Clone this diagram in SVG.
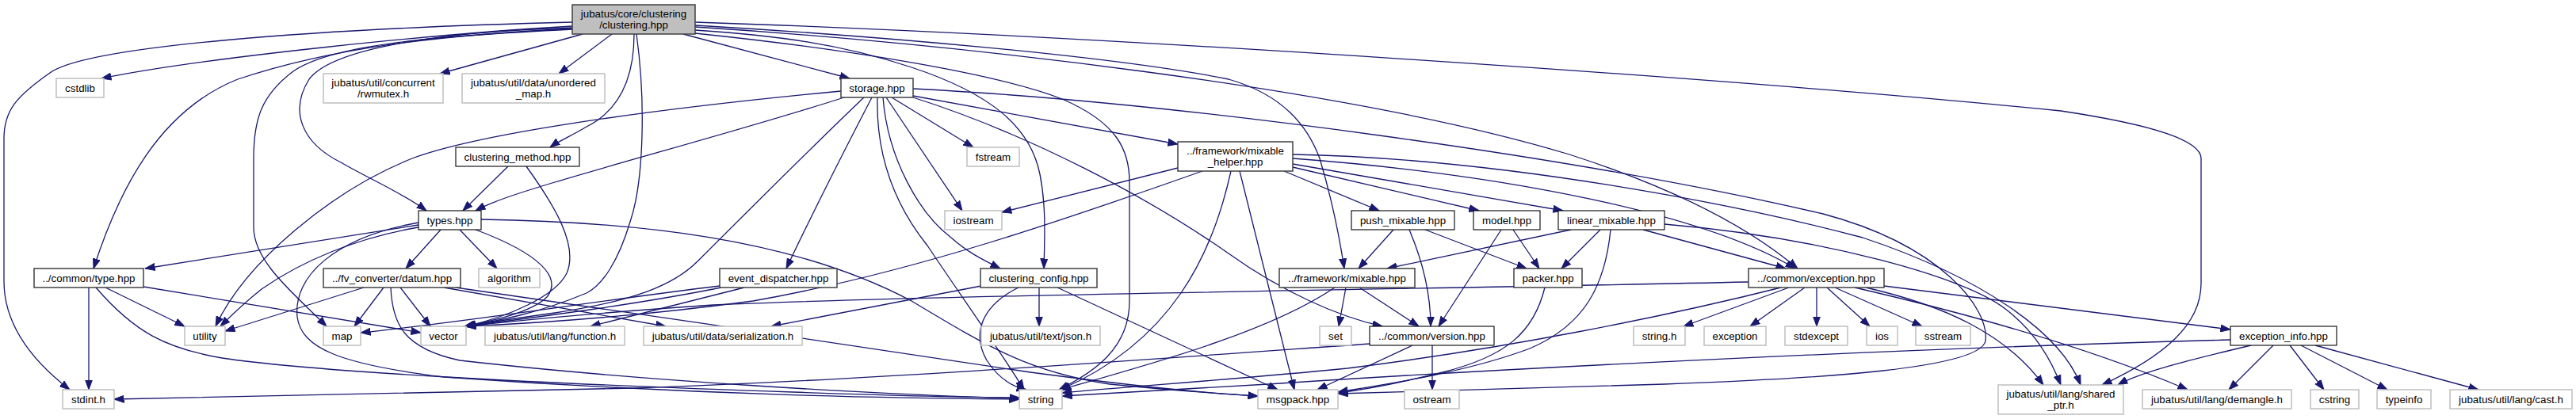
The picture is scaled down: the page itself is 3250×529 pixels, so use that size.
<svg xmlns="http://www.w3.org/2000/svg" width="3250" height="529" viewBox="0 0 3250 529">
<style>
.e path{fill:none;stroke:#191970;stroke-width:1.3;marker-end:url(#arr)}
.doc rect{fill:#fff;stroke:#404040;stroke-width:1.5}
.docb rect{fill:#fff;stroke:#000;stroke-width:1.1}
.ext rect{fill:#fff;stroke:#bfbfbf;stroke-width:1.5}
.root rect{fill:#bfbfbf;stroke:#404040;stroke-width:1.5}
text{font-family:"Liberation Sans",Arial,Helvetica,sans-serif;font-size:13.33px;text-anchor:middle;fill:#000}
</style>
<defs>
<marker id="arr" markerUnits="userSpaceOnUse" markerWidth="13" markerHeight="10" refX="12.5" refY="5" orient="auto" viewBox="0 0 13 10">
<path d="M0,0.5 L12.5,5 L0,9.5 z" fill="#191970" stroke="#191970" stroke-width="1"/>
</marker>
</defs>
<rect x="0" y="0" width="3250" height="529" fill="#fff"/>
<g id="connectors" class="e">
<path d="M722,33 C560,42 260,72 128,99"/>
<path d="M722,28 C400,36 110,58 63,92 C20,122 5,140 5,175 L5,355 C5,410 40,455 88,492"/>
<path d="M735,43 L555,93"/>
<path d="M772,43 L705,93"/>
<path d="M722,36 C550,45 420,60 300,100 C200,140 150,240 118,339"/>
<path d="M722,35 C560,40 420,60 390,100 C365,140 380,180 430,205 C470,228 510,245 538,266"/>
<path d="M722,37 C560,45 420,55 370,90 C330,120 320,150 320,200 L320,287 C320,330 370,370 412,412"/>
<path d="M803,43 C815,130 812,230 795,280 C780,330 760,360 740,370 C680,395 630,405 586,412"/>
<path d="M800,43 C800,100 780,140 740,160 C720,172 705,178 694,186"/>
<path d="M862,43 L1072,99"/>
<path d="M877,38 C980,45 1060,55 1150,85 C1250,118 1300,160 1312,220 C1320,260 1318,300 1317,339"/>
<path d="M877,42 C1050,60 1250,90 1340,125 C1410,155 1425,190 1425,230 L1425,380 C1425,440 1380,470 1336,492"/>
<path d="M877,32 C1100,45 1400,70 1550,100 C1620,120 1650,160 1665,200 C1680,250 1690,300 1696,339"/>
<path d="M877,34 C1200,55 1700,110 1980,195 C2120,240 2210,290 2268,339"/>
<path d="M877,28 C1400,45 2200,100 2600,140 C2700,155 2777,175 2777,200 L2777,358 C2777,410 2730,450 2652,486"/>
<path d="M1061,115 C800,140 600,170 520,200 C420,240 310,330 272,412"/>
<path d="M1065,123 C950,160 800,200 700,230 C650,245 620,255 600,266"/>
<path d="M1090,123 C1030,180 930,280 880,330 C850,360 800,380 700,395 C650,402 610,408 586,412"/>
<path d="M1100,123 C1060,200 1020,280 992,339"/>
<path d="M1107,123 C1105,200 1130,260 1170,310 C1210,370 1260,440 1292,492"/>
<path d="M1114,123 C1120,200 1160,270 1200,300 C1220,318 1240,328 1262,339"/>
<path d="M1118,123 L1214,266"/>
<path d="M1125,123 L1228,186"/>
<path d="M1152,121 L1486,182"/>
<path d="M1152,123 C1300,170 1450,250 1550,320 C1620,370 1690,400 1744,412"/>
<path d="M1152,112 C1500,130 2000,200 2300,270 C2450,310 2510,390 2505,430 C2500,465 2300,478 2100,485 C1900,490 1750,494 1688,497"/>
<path d="M641,210 L584,266"/>
<path d="M664,210 C700,260 730,310 715,345 C700,375 640,400 588,412"/>
<path d="M528,284 L183,339"/>
<path d="M556,290 L512,339"/>
<path d="M580,290 L627,339"/>
<path d="M528,287 C450,300 380,330 330,365 C305,385 290,400 278,412"/>
<path d="M600,290 C680,320 710,350 690,375 C670,395 620,405 586,412"/>
<path d="M528,281 C420,300 370,350 375,400 C380,440 430,460 560,476 C900,500 1150,503 1286,504"/>
<path d="M607,277 C800,280 1000,300 1150,380 C1250,440 1300,470 1400,485 C1500,495 1560,498 1587,500"/>
<path d="M133,363 L233,412"/>
<path d="M112,363 L112,492"/>
<path d="M181,362 L531,420"/>
<path d="M121,363 C170,420 210,440 280,452 C400,470 700,485 1000,495 C1150,500 1250,502 1286,502"/>
<path d="M459,363 L284,418"/>
<path d="M484,363 L447,412"/>
<path d="M505,363 L543,412"/>
<path d="M560,363 L840,412"/>
<path d="M575,363 C800,395 1100,440 1300,470 C1450,490 1530,497 1587,500"/>
<path d="M493,363 C495,410 510,440 580,455 C800,480 1100,498 1286,503"/>
<path d="M908,361 C750,380 600,405 455,420"/>
<path d="M910,363 C800,385 680,400 588,412"/>
<path d="M939,363 L745,412"/>
<path d="M1486,212 L1264,268"/>
<path d="M1517,216 C1350,275 1150,345 950,380 C800,400 680,408 588,412"/>
<path d="M1553,216 C1530,320 1480,430 1338,492"/>
<path d="M1564,216 L1633,492"/>
<path d="M1620,216 L1740,266"/>
<path d="M1631,211 L1866,266"/>
<path d="M1631,207 L1972,266"/>
<path d="M1631,200 C1900,220 2150,270 2265,339"/>
<path d="M1631,195 C1900,200 2200,260 2350,300 C2500,350 2600,420 2625,486"/>
<path d="M1758,290 L1714,339"/>
<path d="M1778,290 C1795,330 1805,370 1805,412"/>
<path d="M1798,290 L1926,339"/>
<path d="M1894,290 L1815,412"/>
<path d="M1909,290 L1942,339"/>
<path d="M1982,290 L1750,339"/>
<path d="M2019,290 L1970,339"/>
<path d="M2032,290 C2025,360 2000,410 1930,440 C1850,470 1750,485 1688,495"/>
<path d="M2073,290 L2253,339"/>
<path d="M2100,283 C2300,300 2480,350 2530,390 C2570,420 2590,460 2600,486"/>
<path d="M1949,363 C1935,420 1900,450 1820,470 C1760,485 1720,492 1688,496"/>
<path d="M1684,363 C1600,420 1450,460 1338,492"/>
<path d="M1698,363 L1689,412"/>
<path d="M1715,363 L1790,412"/>
<path d="M1782,436 L1662,492"/>
<path d="M1807,436 L1807,492"/>
<path d="M1729,434 C1500,450 1100,480 800,490 C500,497 250,502 144,504"/>
<path d="M2206,356 C1800,365 1200,372 900,385 C750,395 650,405 588,412"/>
<path d="M2247,363 C2100,400 1900,440 1700,465 C1550,480 1420,488 1340,496"/>
<path d="M2257,363 L2124,412"/>
<path d="M2277,363 L2208,412"/>
<path d="M2292,363 L2292,412"/>
<path d="M2305,363 L2359,412"/>
<path d="M2315,363 L2425,412"/>
<path d="M2354,363 C2450,385 2530,420 2578,486"/>
<path d="M2340,363 C2500,400 2650,445 2760,492"/>
<path d="M2377,361 L2814,416"/>
<path d="M2814,429 C2400,440 1900,465 1600,485 C1450,493 1380,498 1340,500"/>
<path d="M2840,436 C2760,455 2700,470 2672,486"/>
<path d="M2868,436 L2812,492"/>
<path d="M2889,436 L2932,492"/>
<path d="M2903,436 L3012,492"/>
<path d="M2921,436 L3127,492"/>
<path d="M1238,361 L973,412"/>
<path d="M1285,363 C1240,385 1225,420 1245,455 C1258,475 1275,488 1295,492"/>
<path d="M1311,363 L1311,412"/>
<path d="M1334,363 L1612,492"/>
</g>
<g id="n_root" class="root"><rect x="722" y="6" width="155" height="37"/><text x="799.5" y="22">jubatus/core/clustering</text><text x="799.5" y="36">/clustering.hpp</text></g>
<g id="n_cstdlib" class="ext"><rect x="71" y="99" width="60" height="24"/><text x="101" y="115.5">cstdlib</text></g>
<g id="n_rwmutex" class="ext"><rect x="408" y="93" width="151" height="37"/><text x="483.5" y="109">jubatus/util/concurrent</text><text x="483.5" y="123">/rwmutex.h</text></g>
<g id="n_unordered_map" class="ext"><rect x="583" y="93" width="180" height="37"/><text x="673" y="109">jubatus/util/data/unordered</text><text x="673" y="123">_map.h</text></g>
<g id="n_storage" class="doc"><rect x="1061" y="99" width="91" height="24"/><text x="1106.5" y="115.5">storage.hpp</text></g>
<g id="n_clustering_method" class="docb"><rect x="575" y="186" width="156" height="24"/><text x="653" y="202.5">clustering_method.hpp</text></g>
<g id="n_fstream" class="ext"><rect x="1220" y="186" width="66" height="24"/><text x="1253" y="202.5">fstream</text></g>
<g id="n_mixable_helper" class="doc"><rect x="1486" y="179" width="145" height="37"/><text x="1558.5" y="195">../framework/mixable</text><text x="1558.5" y="209">_helper.hpp</text></g>
<g id="n_types" class="docb"><rect x="528" y="266" width="79" height="24"/><text x="567.5" y="282.5">types.hpp</text></g>
<g id="n_iostream" class="ext"><rect x="1192" y="266" width="72" height="24"/><text x="1228" y="282.5">iostream</text></g>
<g id="n_push_mixable" class="docb"><rect x="1705" y="266" width="130" height="24"/><text x="1770" y="282.5">push_mixable.hpp</text></g>
<g id="n_model" class="docb"><rect x="1859" y="266" width="84" height="24"/><text x="1901" y="282.5">model.hpp</text></g>
<g id="n_linear_mixable" class="docb"><rect x="1966" y="266" width="134" height="24"/><text x="2033" y="282.5">linear_mixable.hpp</text></g>
<g id="n_common_type" class="doc"><rect x="43" y="339" width="138" height="24"/><text x="112" y="355.5">../common/type.hpp</text></g>
<g id="n_datum" class="doc"><rect x="408" y="339" width="173" height="24"/><text x="494.5" y="355.5">../fv_converter/datum.hpp</text></g>
<g id="n_algorithm" class="ext"><rect x="604" y="339" width="77" height="24"/><text x="642.5" y="355.5">algorithm</text></g>
<g id="n_event_dispatcher" class="doc"><rect x="908" y="339" width="148" height="24"/><text x="982" y="355.5">event_dispatcher.hpp</text></g>
<g id="n_clustering_config" class="doc"><rect x="1237" y="339" width="147" height="24"/><text x="1310.5" y="355.5">clustering_config.hpp</text></g>
<g id="n_framework_mixable" class="doc"><rect x="1614" y="339" width="171" height="24"/><text x="1699.5" y="355.5">../framework/mixable.hpp</text></g>
<g id="n_packer" class="doc"><rect x="1910" y="339" width="86" height="24"/><text x="1953" y="355.5">packer.hpp</text></g>
<g id="n_common_exception" class="doc"><rect x="2206" y="339" width="171" height="24"/><text x="2291.5" y="355.5">../common/exception.hpp</text></g>
<g id="n_utility" class="ext"><rect x="233" y="412" width="51" height="24"/><text x="258.5" y="428.5">utility</text></g>
<g id="n_map" class="ext"><rect x="408" y="412" width="47" height="24"/><text x="431.5" y="428.5">map</text></g>
<g id="n_vector" class="ext"><rect x="531" y="412" width="57" height="24"/><text x="559.5" y="428.5">vector</text></g>
<g id="n_function" class="ext"><rect x="612" y="412" width="176" height="24"/><text x="700" y="428.5">jubatus/util/lang/function.h</text></g>
<g id="n_serialization" class="ext"><rect x="812" y="412" width="200" height="24"/><text x="912" y="428.5">jubatus/util/data/serialization.h</text></g>
<g id="n_json" class="ext"><rect x="1238" y="412" width="150" height="24"/><text x="1313" y="428.5">jubatus/util/text/json.h</text></g>
<g id="n_set" class="ext"><rect x="1665" y="412" width="40" height="24"/><text x="1685" y="428.5">set</text></g>
<g id="n_version" class="docb"><rect x="1728" y="412" width="157" height="24"/><text x="1806.5" y="428.5">../common/version.hpp</text></g>
<g id="n_string_h" class="ext"><rect x="2061" y="412" width="65" height="24"/><text x="2093.5" y="428.5">string.h</text></g>
<g id="n_exception" class="ext"><rect x="2150" y="412" width="78" height="24"/><text x="2189" y="428.5">exception</text></g>
<g id="n_stdexcept" class="ext"><rect x="2252" y="412" width="79" height="24"/><text x="2291.5" y="428.5">stdexcept</text></g>
<g id="n_ios" class="ext"><rect x="2355" y="412" width="39" height="24"/><text x="2374.5" y="428.5">ios</text></g>
<g id="n_sstream" class="ext"><rect x="2417" y="412" width="69" height="24"/><text x="2451.5" y="428.5">sstream</text></g>
<g id="n_exception_info" class="docb"><rect x="2814" y="412" width="134" height="24"/><text x="2881" y="428.5">exception_info.hpp</text></g>
<g id="n_stdint" class="ext"><rect x="79" y="492" width="65" height="24"/><text x="111.5" y="508.5">stdint.h</text></g>
<g id="n_string" class="ext"><rect x="1286" y="492" width="54" height="24"/><text x="1313" y="508.5">string</text></g>
<g id="n_msgpack" class="ext"><rect x="1587" y="492" width="101" height="24"/><text x="1637.5" y="508.5">msgpack.hpp</text></g>
<g id="n_ostream" class="ext"><rect x="1772" y="492" width="69" height="24"/><text x="1806.5" y="508.5">ostream</text></g>
<g id="n_shared_ptr" class="ext"><rect x="2521" y="486" width="158" height="37"/><text x="2600" y="502">jubatus/util/lang/shared</text><text x="2600" y="516">_ptr.h</text></g>
<g id="n_demangle" class="ext"><rect x="2703" y="492" width="188" height="24"/><text x="2797" y="508.5">jubatus/util/lang/demangle.h</text></g>
<g id="n_cstring" class="ext"><rect x="2915" y="492" width="61" height="24"/><text x="2945.5" y="508.5">cstring</text></g>
<g id="n_typeinfo" class="ext"><rect x="2999" y="492" width="68" height="24"/><text x="3033" y="508.5">typeinfo</text></g>
<g id="n_cast" class="ext"><rect x="3091" y="492" width="154" height="24"/><text x="3168" y="508.5">jubatus/util/lang/cast.h</text></g>
</svg>
